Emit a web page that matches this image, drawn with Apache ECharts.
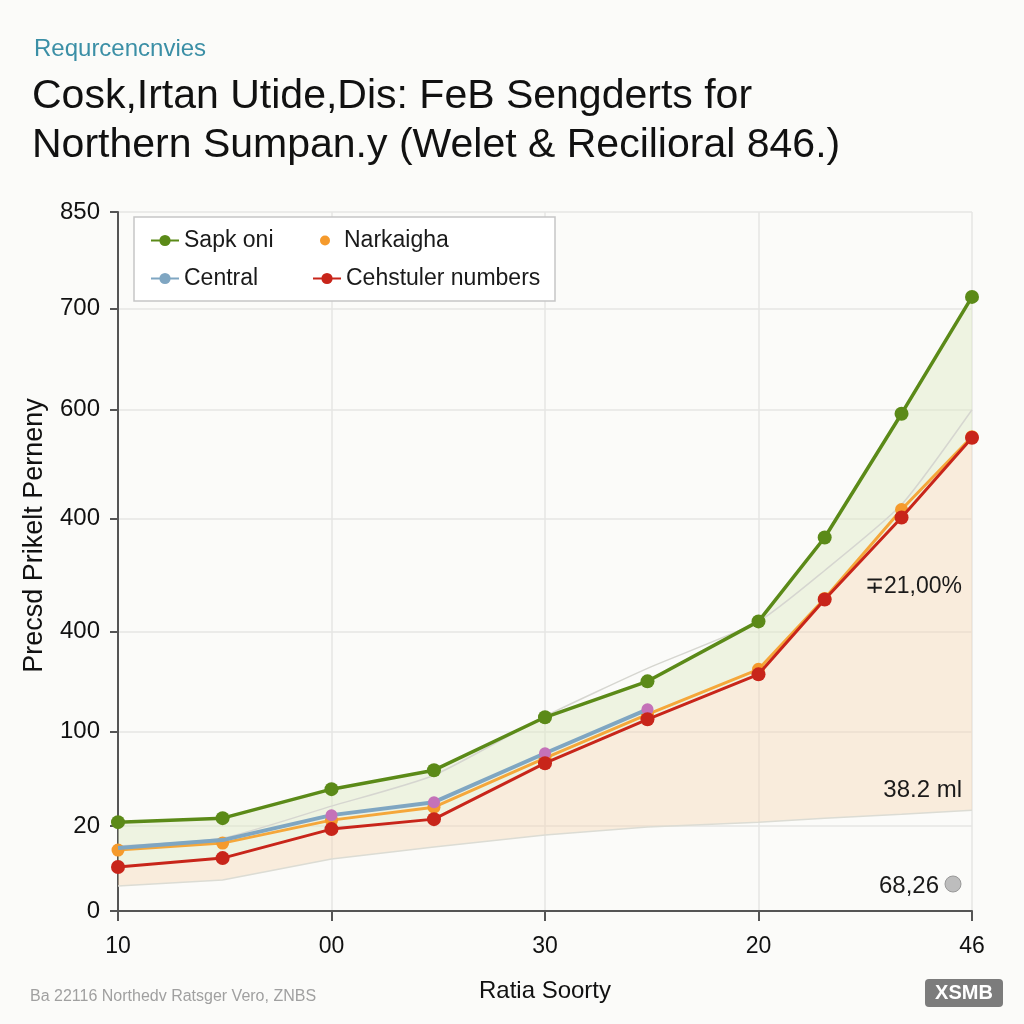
<!DOCTYPE html>
<html>
<head>
<meta charset="utf-8">
<script src="https://cdn.jsdelivr.net/npm/echarts@6/dist/echarts.min.js"></script>
<style>
html,body{margin:0;padding:0;background:#fbfbf9;}
#chart{width:1024px;height:1024px;}
</style>
</head>
<body>
<div id="chart"></div>
<script>
// ---- data ----
const xTickLabels = ['10', '00', '30', '20', '46'];
const yTickLabels = ['0', '20', '100', '400', '400', '600', '700', '850'];
const yTickSteps = [0, 0.85, 1.80, 2.80, 3.93, 5.02, 6.03, 7];
const xSteps = [0, 0.49, 1, 1.48, 2, 2.48, 3, 3.31, 3.67, 4.0];
const sapkOni = [0.89, 0.93, 1.22, 1.41, 1.94, 2.30, 2.90, 3.74, 4.98, 6.15];
const narkaigha = [0.61, 0.68, 0.91, 1.04, 1.53, 1.97, 2.42, 3.13, 4.02, 4.75];
const central = [0.63, 0.71, 0.96, 1.09, 1.58, 2.02];
const cehstuler = [0.44, 0.53, 0.82, 0.92, 1.48, 1.92, 2.37, 3.12, 3.94, 4.74];
const lowerBand = [0.25, 0.31, 0.52, 0.64, 0.76, 0.84, 0.89, 0.93, 0.97, 1.01];
const upperTrend = [0.65, 0.73, 1.05, 1.36, 1.95, 2.43, 2.90, 3.41, 4.07, 5.02];

const pairs = (xs, ys) => ys.map((v, i) => [xs[i], v]);

const chart = echarts.init(document.getElementById('chart'), null, {renderer: 'canvas'});
const FONT = 'Liberation Sans, Arial, sans-serif';

const C_GREEN = '#5b8a18', C_ORANGE = '#f59a2c', C_BLUE = '#7fa6c2', C_PINK = '#c472b8', C_RED = '#c8251a';

function legendAt(item, left, top, w, h) {
  return {
    data: [item], left: left, top: top, padding: 0, itemWidth: w || 28, itemHeight: h || 14, z: 20,
    textStyle: {fontSize: 23, color: '#1a1a1a', fontFamily: FONT},
    selectedMode: false
  };
}

function bandSeries(name, upper, lower, fill) {
  return {
    name: name, type: 'custom', silent: true, z: 1,
    data: [[xSteps[0], upper[0]]],
    renderItem: function (params, api) {
      const pts = [];
      for (let i = 0; i < upper.length; i++) pts.push(api.coord([xSteps[i], upper[i]]));
      for (let i = lower.length - 1; i >= 0; i--) pts.push(api.coord([xSteps[i], lower[i]]));
      return {type: 'polygon', shape: {points: pts}, style: {fill: fill}};
    }
  };
}

const option = {
  backgroundColor: '#fbfbf9',
  animation: false,
  title: [
    {text: 'Requrcencnvies', left: 29, top: 32, textStyle: {fontSize: 24, fontWeight: 'normal', color: '#3b8fa6', fontFamily: FONT}},
    {text: 'Cosk,Irtan Utide,Dis: FeB Sengderts for\nNorthern Sumpan.y (Welet & Recilioral 846.)', left: 27, top: 67,
     textStyle: {fontSize: 41, fontWeight: 'normal', color: '#111', lineHeight: 49, fontFamily: FONT}}
  ],
  legend: [
    legendAt('Sapk oni', 150, 229),
    legendAt({name: 'Narkaigha', icon: 'circle'}, 320, 229, 28, 10),
    legendAt({name: 'Central', itemStyle: {color: C_BLUE}}, 150, 267),
    legendAt('Cehstuler numbers', 312, 267)
  ],
  grid: {left: 118, right: 52, top: 212, bottom: 113, containLabel: false, outerBoundsMode: 'none'},
  xAxis: {
    type: 'value', min: 0, max: 4, interval: 1,
    name: 'Ratia Soorty', nameLocation: 'middle', nameGap: 68,
    nameTextStyle: {fontSize: 24, color: '#111', fontFamily: FONT},
    axisLine: {show: true, lineStyle: {color: '#555', width: 2}},
    axisTick: {show: true, length: 10, lineStyle: {color: '#555', width: 2}},
    axisLabel: {fontSize: 23, color: '#111', margin: 24, fontFamily: FONT,
      formatter: v => xTickLabels[Math.round(v)] ?? ''},
    splitLine: {show: true, lineStyle: {color: '#e6e6e3', width: 1.5}}
  },
  yAxis: {
    type: 'value', min: 0, max: 7,
    name: 'Precsd Prikelt Perneny', nameLocation: 'middle', nameRotate: 90, nameGap: 70,
    nameTextStyle: {fontSize: 27, color: '#111', fontFamily: FONT, padding: [0, 0, 0, 52]},
    axisLine: {show: true, lineStyle: {color: '#555', width: 2}},
    axisTick: {show: true, length: 8, customValues: yTickSteps, lineStyle: {color: '#555', width: 2}},
    axisLabel: {fontSize: 24, color: '#111', margin: 18, fontFamily: FONT, customValues: yTickSteps,
      formatter: v => {
        let best = 0, bd = 1e9;
        yTickSteps.forEach((t, i) => { const d = Math.abs(t - v); if (d < bd) { bd = d; best = i; } });
        return yTickLabels[best];
      }},
    splitLine: {show: true, lineStyle: {color: '#e6e6e3', width: 1.5}}
  },
  series: [
    bandSeries('peachBand', cehstuler, lowerBand, 'rgba(246,214,180,0.42)'),
    bandSeries('greenBand', sapkOni, cehstuler, 'rgba(222,232,196,0.45)'),
    {name: 'lowerBase', type: 'line', data: pairs(xSteps, lowerBand), symbol: 'none',
     lineStyle: {color: '#dcdcd4', width: 1.5}, z: 2, silent: true},
    {name: 'trend', type: 'line', data: pairs(xSteps, upperTrend), symbol: 'none', smooth: 0.2,
     lineStyle: {color: '#d6d6d0', width: 1.5}, z: 2, silent: true},
    {name: 'Narkaigha', type: 'line', data: pairs(xSteps, narkaigha), symbol: 'circle', symbolSize: 13,
     itemStyle: {color: C_ORANGE}, lineStyle: {color: '#f5a73a', width: 3}, z: 3},
    {name: 'Central', type: 'line',
     data: pairs(xSteps, central).map((p, i) => i < 2 ? {value: p, symbol: 'none'} : p),
     symbol: 'circle', symbolSize: 12, showSymbol: true,
     itemStyle: {color: C_PINK}, lineStyle: {color: C_BLUE, width: 4}, z: 4},
    {name: 'Cehstuler numbers', type: 'line', data: pairs(xSteps, cehstuler), symbol: 'circle', symbolSize: 14,
     itemStyle: {color: C_RED}, lineStyle: {color: C_RED, width: 3}, z: 5},
    {name: 'Sapk oni', type: 'line', data: pairs(xSteps, sapkOni), symbol: 'circle', symbolSize: 14,
     itemStyle: {color: C_GREEN}, lineStyle: {color: C_GREEN, width: 3.5}, z: 6}
  ],
  graphic: [
    {type: 'rect', shape: {x: 134, y: 217, width: 421, height: 84}, style: {fill: '#ffffff', stroke: '#c6c6c6', lineWidth: 1.5}, z: 10},
    {type: 'text', x: 962, y: 587, style: {text: '∓21,00%', font: '23px ' + FONT, fill: '#1a1a1a', textAlign: 'right', textVerticalAlign: 'middle'}, z: 100},
    {type: 'text', x: 962, y: 790, style: {text: '38.2 ml', font: '24px ' + FONT, fill: '#1a1a1a', textAlign: 'right', textVerticalAlign: 'middle'}, z: 100},
    {type: 'text', x: 939, y: 886, style: {text: '68,26', font: '24px ' + FONT, fill: '#1a1a1a', textAlign: 'right', textVerticalAlign: 'middle'}, z: 100},
    {type: 'circle', shape: {cx: 953, cy: 884, r: 8}, style: {fill: '#bdbdbd', stroke: '#999', lineWidth: 1}, z: 100},
    {type: 'text', x: 30, y: 997, style: {text: 'Ba 22116 Northedv Ratsger Vero, ZNBS', font: '16px ' + FONT, fill: '#a0a0a0', textVerticalAlign: 'middle'}, z: 100},
    {type: 'rect', shape: {x: 925, y: 979, width: 78, height: 28, r: 4}, style: {fill: '#7c7c7c'}, z: 100},
    {type: 'text', x: 964, y: 993, style: {text: 'XSMB', font: 'bold 20px ' + FONT, fill: '#ffffff', textAlign: 'center', textVerticalAlign: 'middle'}, z: 101}
  ]
};
chart.setOption(option);
</script>
</body>
</html>
